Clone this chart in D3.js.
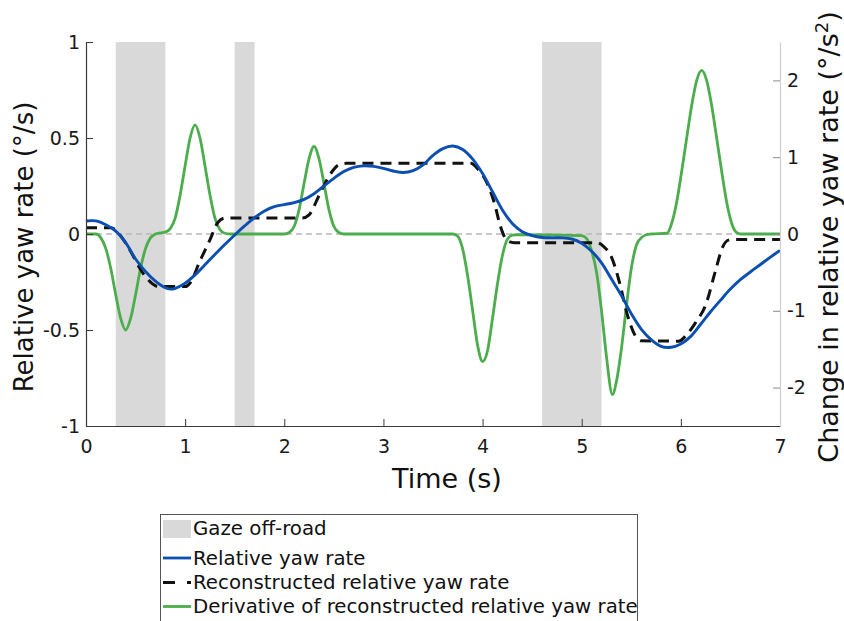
<!DOCTYPE html>
<html>
<head>
<meta charset="utf-8">
<script src="https://cdn.jsdelivr.net/npm/d3@7"></script>
<style>
  body { margin: 0; background: #fff; }
  svg { font-family: "DejaVu Sans", Verdana, sans-serif; }
</style>
</head>
<body>
<svg width="844" height="621"></svg>
<script>
// Time ticks and axis ticks
const timeTicks = [0, 1, 2, 3, 4, 5, 6, 7]
const leftTicks = [-1, -0.5, 0, 0.5, 1]
const rightTicks = [-2, -1, 0, 1, 2]

// Gaze off-road intervals (s)
const gazeStart = [0.3, 1.5, 4.6]
const gazeEnd = [0.8, 1.7, 5.2]

// Relative yaw rate (deg/s)
const yawTime = [0, 0.1, 0.2, 0.3, 0.4, 0.5, 0.6, 0.7, 0.8, 0.85, 0.9, 1.0, 1.1, 1.2, 1.3, 1.4, 1.5, 1.6, 1.7, 1.8, 1.9,
    2.0, 2.1, 2.2, 2.3, 2.4, 2.5, 2.6, 2.7, 2.8, 2.9, 3.0, 3.1, 3.2, 3.3, 3.4, 3.5, 3.6, 3.7, 3.8, 3.9,
    4.0, 4.1, 4.2, 4.3, 4.4, 4.5, 4.6, 4.7, 4.8, 4.9, 5.0, 5.1, 5.2, 5.3, 5.4, 5.5, 5.6, 5.7, 5.8, 5.9,
    6.0, 6.1, 6.2, 6.3, 6.4, 6.5, 6.6, 6.7, 6.8, 6.9, 7.0]
const yawRate = [0.068, 0.068, 0.048, 0.015, -0.045, -0.13, -0.195, -0.245, -0.28, -0.287, -0.283, -0.256, -0.213, -0.16, -0.107, -0.055, -0.005, 0.042, 0.085, 0.12, 0.143,
    0.153, 0.163, 0.18, 0.21, 0.25, 0.29, 0.325, 0.347, 0.355, 0.352, 0.342, 0.328, 0.32, 0.33, 0.36, 0.41, 0.445, 0.458, 0.44, 0.39,
    0.315, 0.22, 0.125, 0.055, 0.012, -0.008, -0.018, -0.02, -0.02, -0.026, -0.048, -0.09, -0.15, -0.235, -0.32, -0.415, -0.495, -0.55, -0.585, -0.59,
    -0.573, -0.533, -0.47, -0.405, -0.345, -0.287, -0.238, -0.198, -0.16, -0.122, -0.085]

// Reconstructed relative yaw rate (deg/s)
const reconTime = [0, 0.25, 0.3, 0.35, 0.45, 0.55, 0.65, 0.72, 1.0, 1.05, 1.15, 1.25, 1.33, 1.4, 2.18, 2.25, 2.35, 2.45, 2.55, 2.62,
    3.88, 3.95, 4.05, 4.12, 4.18, 4.25, 4.32, 5.15, 5.22, 5.3, 5.38, 5.46, 5.54, 5.6, 5.98, 6.05, 6.15, 6.25, 6.35, 6.42, 6.48, 6.55, 7.0]
const reconRate = [0.033, 0.033, 0.02, -0.01, -0.09, -0.185, -0.25, -0.272, -0.274, -0.255, -0.14, -0.03, 0.06, 0.083, 0.083, 0.1, 0.2, 0.3, 0.36, 0.368,
    0.368, 0.34, 0.26, 0.16, 0.04, -0.035, -0.045, -0.045, -0.065, -0.12, -0.25, -0.42, -0.53, -0.556, -0.558, -0.53, -0.46, -0.37, -0.19, -0.07, -0.032, -0.028, -0.028]

// Derivative of reconstructed relative yaw rate (deg/s^2)
const derivTime = [0, 0.1, 0.15, 0.2, 0.25, 0.3, 0.35, 0.4, 0.45, 0.5, 0.55, 0.6, 0.65, 0.7, 0.75, 0.8, 0.85, 0.9, 0.95,
    1.0, 1.05, 1.1, 1.15, 1.2, 1.25, 1.3, 1.35, 1.4, 1.45, 2.0, 2.05, 2.1, 2.15, 2.2, 2.25, 2.3, 2.35, 2.4, 2.45, 2.5, 2.55, 2.6,
    3.7, 3.75, 3.8, 3.85, 3.9, 3.95, 4.0, 4.05, 4.1, 4.15, 4.2, 4.25, 4.3, 4.35, 5.0, 5.05, 5.1, 5.15, 5.2, 5.25, 5.31, 5.35,
    5.4, 5.45, 5.5, 5.55, 5.6, 5.65, 5.7, 5.86, 5.91, 5.96, 6.01, 6.06, 6.11, 6.16, 6.21, 6.26, 6.31, 6.36, 6.41, 6.46, 6.51, 6.56, 6.6, 7.0]
const derivRate = [0, 0, -0.05, -0.19, -0.45, -0.79, -1.1, -1.25, -1.1, -0.79, -0.45, -0.19, -0.05, 0, 0.015, 0.025, 0.07, 0.21, 0.51,
    0.89, 1.25, 1.42, 1.25, 0.89, 0.51, 0.21, 0.06, 0.01, 0, 0, 0.02, 0.1, 0.32, 0.66, 0.98, 1.14, 0.98, 0.66, 0.32, 0.1, 0.02, 0,
    0, -0.03, -0.2, -0.55, -1.0, -1.45, -1.66, -1.52, -1.1, -0.65, -0.28, -0.07, -0.015, -0.01, -0.02, -0.06, -0.22, -0.5, -1.0, -1.6, -2.09, -1.92,
    -1.5, -0.95, -0.45, -0.15, -0.05, -0.01, 0, 0.01, 0.15, 0.43, 0.83, 1.26, 1.68, 2.0, 2.13, 2.0, 1.68, 1.26, 0.83, 0.43, 0.15, 0.02, 0, 0]

const legendLabels = ['Gaze off-road', 'Relative yaw rate', 'Reconstructed relative yaw rate', 'Derivative of reconstructed relative yaw rate']

const blue = '#0b4fb3'
const green = '#4cad4c'
const band = '#d9d9d9'

let svg = d3.select('svg')
let plotLeft = 86, plotRight = 780, plotTop = 42, plotBottom = 426

// Scales
let xScale = d3.scaleLinear().domain([0, 7]).range([plotLeft, plotRight])
let yLeft = d3.scaleLinear().domain([-1, 1]).range([plotBottom, plotTop])
let yRight = d3.scaleLinear().domain([-2.5, 2.5]).range([plotBottom, plotTop])

// Gaze off-road bands
svg.append('g')
    .selectAll('rect')
    .data(gazeStart)
    .enter()
    .append('rect')
    .attr('x', (d) => xScale(d))
    .attr('width', (d, i) => xScale(gazeEnd[i]) - xScale(d))
    .attr('y', plotTop)
    .attr('height', plotBottom - plotTop)
    .attr('fill', band)

// Zero reference line
svg.append('line')
    .attr('x1', xScale(0)).attr('x2', xScale(7))
    .attr('y1', yLeft(0)).attr('y2', yLeft(0))
    .attr('stroke', '#b8b8b8')
    .attr('stroke-width', 1.3)
    .attr('stroke-dasharray', '6,4')

// Curves
let derivLine = d3.line()
    .x((d, i) => xScale(derivTime[i]))
    .y((d) => yRight(d))
    .curve(d3.curveMonotoneX)
svg.append('path')
    .attr('d', derivLine(derivRate))
    .attr('fill', 'none')
    .attr('stroke', green)
    .attr('stroke-width', 2.8)

let reconLine = d3.line()
    .x((d, i) => xScale(reconTime[i]))
    .y((d) => yLeft(d))
    .curve(d3.curveMonotoneX)
svg.append('path')
    .attr('d', reconLine(reconRate))
    .attr('fill', 'none')
    .attr('stroke', '#111')
    .attr('stroke-width', 3)
    .attr('stroke-dasharray', '11,7')

let yawLine = d3.line()
    .x((d, i) => xScale(yawTime[i]))
    .y((d) => yLeft(d))
    .curve(d3.curveCatmullRom)
svg.append('path')
    .attr('d', yawLine(yawRate))
    .attr('fill', 'none')
    .attr('stroke', blue)
    .attr('stroke-width', 2.9)

// Axes
let fmt = (d) => String(d)

let xAxis = d3.axisBottom(xScale).tickValues(timeTicks).tickFormat(fmt)
    .tickSizeInner(-7).tickSizeOuter(0).tickPadding(14)
let gx = svg.append('g')
    .attr('transform', 'translate(0,' + plotBottom + ')')
    .call(xAxis)

let yAxisL = d3.axisLeft(yLeft).tickValues(leftTicks).tickFormat(fmt)
    .tickSizeInner(-7).tickSizeOuter(0).tickPadding(6)
let gl = svg.append('g')
    .attr('transform', 'translate(' + plotLeft + ',0)')
    .call(yAxisL)

let yAxisR = d3.axisRight(yRight).tickValues(rightTicks).tickFormat(fmt)
    .tickSizeInner(-7).tickSizeOuter(0).tickPadding(7)
let gr = svg.append('g')
    .attr('transform', 'translate(' + plotRight + ',0)')
    .call(yAxisR)

;[gx, gl, gr].forEach((g) => {
    g.selectAll('text')
        .style('font-family', '"DejaVu Sans", Verdana, sans-serif')
        .style('font-size', '19px')
        .attr('fill', '#1a1a1a')
})
gx.select('.domain').attr('stroke', '#3a3a3a').attr('stroke-width', 1.2)
gx.selectAll('.tick line').attr('stroke', '#3a3a3a')
gl.select('.domain').attr('stroke', '#3a3a3a').attr('stroke-width', 1.2)
gl.selectAll('.tick line').attr('stroke', '#3a3a3a')
gr.select('.domain').attr('stroke', '#d0d0d0').attr('stroke-width', 1.2)
gr.selectAll('.tick line').attr('stroke', '#8a8a8a')

// Axis labels
svg.append('text')
    .attr('x', 447).attr('y', 488)
    .attr('text-anchor', 'middle')
    .style('font-size', '27px')
    .attr('fill', '#111')
    .text('Time (s)')

svg.append('text')
    .attr('transform', 'translate(33,247) rotate(-90)')
    .attr('text-anchor', 'middle')
    .style('font-size', '26px')
    .attr('fill', '#111')
    .text('Relative yaw rate (°/s)')

let rl = svg.append('text')
    .attr('transform', 'translate(838,237) rotate(-90)')
    .attr('text-anchor', 'middle')
    .style('font-size', '27px')
    .attr('fill', '#111')
rl.append('tspan').text('Change in relative yaw rate (°/s')
rl.append('tspan').attr('baseline-shift', 'super').style('font-size', '18px').text('2')
rl.append('tspan').text(')')

// Legend
let lg = svg.append('g')
lg.append('rect')
    .attr('x', 160.5).attr('y', 514.5)
    .attr('width', 477).attr('height', 120)
    .attr('fill', '#fff')
    .attr('stroke', '#555')
    .attr('stroke-width', 1)

let rowBase = [535, 565, 589, 613]
lg.append('rect')
    .attr('x', 163).attr('y', 520)
    .attr('width', 28).attr('height', 18)
    .attr('fill', band)
lg.append('line')
    .attr('x1', 163).attr('x2', 191).attr('y1', 558).attr('y2', 558)
    .attr('stroke', blue).attr('stroke-width', 2.8)
lg.append('line')
    .attr('x1', 163).attr('x2', 191).attr('y1', 582.5).attr('y2', 582.5)
    .attr('stroke', '#111').attr('stroke-width', 3)
    .attr('stroke-dasharray', '12,12')
lg.append('line')
    .attr('x1', 163).attr('x2', 191).attr('y1', 606.5).attr('y2', 606.5)
    .attr('stroke', green).attr('stroke-width', 2.8)

lg.selectAll('text.lab')
    .data(legendLabels)
    .enter()
    .append('text')
    .attr('class', 'lab')
    .attr('x', 193)
    .attr('y', (d, i) => rowBase[i])
    .style('font-size', '19.8px')
    .attr('fill', '#111')
    .text((d) => d)
</script>
</body>
</html>
